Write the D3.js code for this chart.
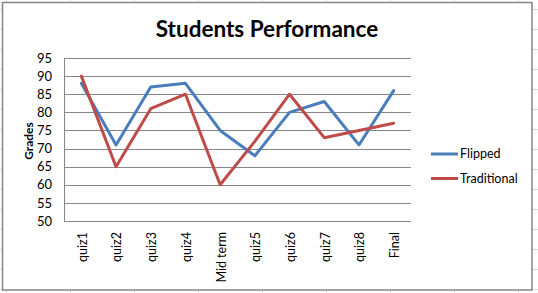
<!DOCTYPE html>
<html><head><meta charset="utf-8">
<script src="https://cdn.jsdelivr.net/npm/d3@7"></script>
<style>html,body{margin:0;padding:0;background:#fff;overflow:hidden}</style>
</head><body>
<script>
const categories = ["quiz1","quiz2","quiz3","quiz4","Mid term","quiz5","quiz6","quiz7","quiz8","Final"];
const flipped = [88, 71, 87, 88, 75, 68, 80, 83, 71, 86];
const traditional = [90, 65, 81, 85, 60, 72, 85, 73, 75, 77];
const yTicks = [50, 55, 60, 65, 70, 75, 80, 85, 90, 95];
const seriesNames = ["Flipped", "Traditional"];
const colors = ["#4a7ebb", "#be4b48"];

const W = 538, H = 293;
const font = "Lato, 'Open Sans', sans-serif";
const svg = d3.select("body").append("svg").attr("width", W).attr("height", H);

// spreadsheet background grid
const sheet = svg.append("g");
d3.range(6.5, W, 64).forEach(x => sheet.append("line").attr("x1", x).attr("x2", x).attr("y1", 0).attr("y2", H).attr("stroke", "#d9d9d9"));
d3.range(9.5, H, 20).forEach(y => sheet.append("line").attr("x1", 0).attr("x2", W).attr("y1", y).attr("y2", y).attr("stroke", "#d9d9d9"));

// chart area
svg.append("rect").attr("x", 2.5).attr("y", 2.5).attr("width", 529.5).attr("height", 287.5)
  .attr("fill", "#fff").attr("stroke", "#868686").attr("stroke-width", 1.5);

const plot = {left: 64, right: 411, top: 58, bottom: 221};
const x = d3.scaleBand().domain(categories).range([plot.left, plot.right]);
const y = d3.scaleLinear().domain([50, 95]).range([plot.bottom, plot.top]);

// gridlines
svg.append("g").selectAll("line").data(yTicks).join("line")
  .attr("x1", plot.left).attr("x2", plot.right)
  .attr("y1", d => Math.round(y(d)) + 0.5).attr("y2", d => Math.round(y(d)) + 0.5)
  .attr("stroke", "#868686").attr("stroke-width", 1);
// axis lines
svg.append("line").attr("x1", plot.left + 0.5).attr("x2", plot.left + 0.5).attr("y1", y(95)).attr("y2", y(50) + 0.5).attr("stroke", "#868686");

// y axis labels
const yAxis = d3.axisLeft(y).tickValues(yTicks).tickSize(0).tickPadding(12);
const yg = svg.append("g").attr("transform", `translate(${plot.left},0)`).call(yAxis);
yg.select(".domain").remove();
yg.selectAll("text").attr("font-family", font).attr("font-size", 13).attr("fill", "#000");

// x axis labels
const xAxis = d3.axisBottom(x).tickSize(0).tickPadding(0);
const xg = svg.append("g").attr("transform", `translate(0,${plot.bottom})`).call(xAxis);
xg.select(".domain").remove();
xg.selectAll("text").attr("font-family", font).attr("font-size", 12.5).attr("fill", "#000")
  .attr("transform", "rotate(-90)").attr("text-anchor", "end")
  .attr("x", -11).attr("y", 1).attr("dy", "0.35em");

// title
svg.append("text").attr("x", 267).attr("y", 37).attr("text-anchor", "middle")
  .attr("font-family", font).attr("font-weight", "bold").attr("font-size", 22.5).text("Students Performance");
// y title
svg.append("text").attr("transform", "translate(32.5,141) rotate(-90)").attr("text-anchor", "middle")
  .attr("font-family", font).attr("font-weight", "bold").attr("font-size", 12).text("Grades");

// lines
const line = d3.line().x((d, i) => x(categories[i]) + x.bandwidth() / 2).y(d => y(d));
[flipped, traditional].forEach((s, i) => {
  svg.append("path").attr("d", line(s)).attr("fill", "none").attr("stroke", colors[i])
    .attr("stroke-width", 3).attr("stroke-linejoin", "round").attr("stroke-linecap", "round");
});

// legend
seriesNames.forEach((n, i) => {
  const ly = 154 + i * 24.5;
  svg.append("line").attr("x1", 431).attr("x2", 458).attr("y1", ly).attr("y2", ly)
    .attr("stroke", colors[i]).attr("stroke-width", 3);
  svg.append("text").attr("x", 460).attr("y", ly).attr("dy", "0.35em")
    .attr("font-family", font).attr("font-size", 12.5).text(n);
});
</script>
</body></html>
